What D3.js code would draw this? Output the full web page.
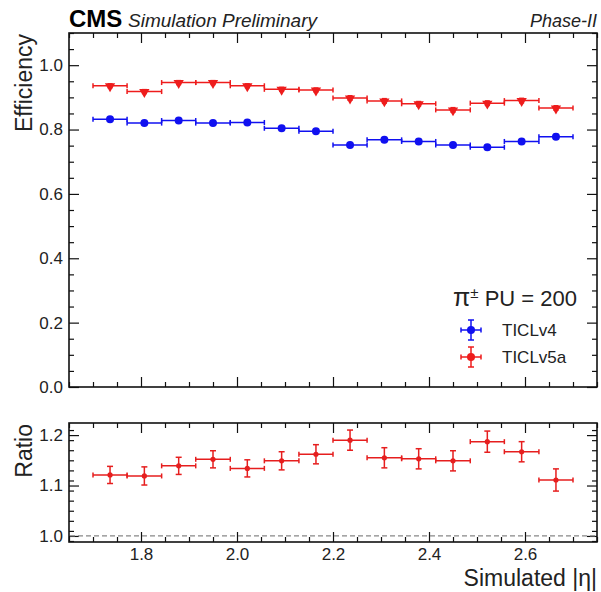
<!DOCTYPE html>
<html>
<head>
<meta charset="utf-8">
<script src="https://cdn.jsdelivr.net/npm/d3@7"></script>
<style>
    body { margin: 0; background: #fff; }
    svg { font-family: "Liberation Sans", Arial, sans-serif; }
</style>
</head>
<body>
<svg id="drawing_region"></svg>
<script>
// bins in simulated |eta|
const binEdges = [1.700, 1.771, 1.843, 1.914, 1.986, 2.057, 2.129, 2.200, 2.271, 2.343, 2.414, 2.486, 2.557, 2.629, 2.700];

// efficiency per bin
const effV4  = [0.832, 0.820, 0.828, 0.820, 0.822, 0.804, 0.795, 0.752, 0.768, 0.763, 0.752, 0.745, 0.763, 0.778];
const errV4  = [0.006, 0.006, 0.006, 0.006, 0.006, 0.006, 0.006, 0.007, 0.007, 0.007, 0.007, 0.007, 0.007, 0.007];
const effV5a = [0.936, 0.918, 0.946, 0.946, 0.936, 0.925, 0.923, 0.898, 0.889, 0.880, 0.861, 0.882, 0.890, 0.867];
const errV5a = [0.006, 0.006, 0.006, 0.006, 0.006, 0.006, 0.006, 0.007, 0.007, 0.007, 0.007, 0.007, 0.007, 0.007];

// TICLv5a / TICLv4
const ratio    = [1.121, 1.119, 1.139, 1.152, 1.134, 1.149, 1.162, 1.190, 1.155, 1.153, 1.149, 1.187, 1.167, 1.111];
const ratioErr = [0.017, 0.018, 0.017, 0.017, 0.017, 0.018, 0.019, 0.020, 0.020, 0.020, 0.020, 0.021, 0.020, 0.022];

const xMajor = [1.8, 2.0, 2.2, 2.4, 2.6];
const effMajor = [0.0, 0.2, 0.4, 0.6, 0.8, 1.0];
const ratioMajor = [1.0, 1.1, 1.2];

const config = {
    width: 601,
    height: 592,
    left: 69,
    right: 597,
    top: { y0: 33, y1: 387 },
    bottom: { y0: 423, y1: 542 }
};

const svg = d3.select('#drawing_region')
    .attr('width', config.width)
    .attr('height', config.height);

const xscale = d3.scaleLinear()
    .domain([1.65, 2.75])
    .range([config.left, config.right]);

const yEff = d3.scaleLinear()
    .domain([0, 1.1])
    .range([config.top.y1, config.top.y0]);

const yRatio = d3.scaleLinear()
    .domain([0.988, 1.224])
    .range([config.bottom.y1, config.bottom.y0]);

const bins = binEdges.slice(0, -1).map((lo, i) => ({ lo: lo, hi: binEdges[i + 1], c: (lo + binEdges[i + 1]) / 2, i: i }));

function minorValues(a, b, step) {
    const out = [];
    for (let v = a; v <= b + 1e-9; v += step) out.push(+v.toFixed(4));
    return out;
}

// ticks on all four sides, pointing inward
function drawFrame(yscale, y0, y1, yMajor, yMinor, xLabels) {
    const g = svg.append('g');
    const w = config.right - config.left;

    const addAxis = (axis, tx, ty, labels) => {
        const a = g.append('g')
            .attr('transform', `translate(${tx}, ${ty})`)
            .call(axis);
        a.select('.domain').remove();
        a.selectAll('line').attr('stroke', '#111').attr('stroke-width', 1.2);
        a.selectAll('text')
            .attr('fill', '#222')
            .style('font-size', '17px')
            .style('font-family', '"Liberation Sans", Arial, sans-serif');
        if (!labels) a.selectAll('text').remove();
    };

    const xMinorVals = minorValues(1.65, 2.75, 0.05).filter(v => !xMajor.some(m => Math.abs(m - v) < 1e-6));
    const yMinorVals = yMinor.filter(v => !yMajor.some(m => Math.abs(m - v) < 1e-6));

    addAxis(d3.axisBottom(xscale).tickValues(xMajor).tickSize(-10).tickPadding(6).tickFormat(d3.format('.1f')), 0, y1, xLabels);
    addAxis(d3.axisBottom(xscale).tickValues(xMinorVals).tickSize(-5), 0, y1, false);
    addAxis(d3.axisTop(xscale).tickValues(xMajor).tickSize(-10), 0, y0, false);
    addAxis(d3.axisTop(xscale).tickValues(xMinorVals).tickSize(-5), 0, y0, false);

    addAxis(d3.axisLeft(yscale).tickValues(yMajor).tickSize(-10).tickPadding(6).tickFormat(d3.format('.1f')), config.left, 0, true);
    addAxis(d3.axisLeft(yscale).tickValues(yMinorVals).tickSize(-5), config.left, 0, false);
    addAxis(d3.axisRight(yscale).tickValues(yMajor).tickSize(-10), config.right, 0, false);
    addAxis(d3.axisRight(yscale).tickValues(yMinorVals).tickSize(-5), config.right, 0, false);

    g.append('rect')
        .attr('x', config.left)
        .attr('y', y0)
        .attr('width', w)
        .attr('height', y1 - y0)
        .attr('fill', 'none')
        .attr('stroke', '#111')
        .attr('stroke-width', 1.6);
}

function drawErrorBars(yscale, values, errs, color, capX, capY) {
    const g = svg.append('g').attr('stroke', color).attr('stroke-width', 1.5);
    const data = bins.map(b => ({ b: b, v: values[b.i], e: errs[b.i] }));

    // horizontal bin width with end caps
    g.selectAll('.hbar').data(data).enter().append('line')
        .attr('x1', d => xscale(d.b.lo)).attr('x2', d => xscale(d.b.hi))
        .attr('y1', d => yscale(d.v)).attr('y2', d => yscale(d.v));
    g.selectAll('.hcapl').data(data).enter().append('line')
        .attr('x1', d => xscale(d.b.lo)).attr('x2', d => xscale(d.b.lo))
        .attr('y1', d => yscale(d.v) - capX).attr('y2', d => yscale(d.v) + capX);
    g.selectAll('.hcapr').data(data).enter().append('line')
        .attr('x1', d => xscale(d.b.hi)).attr('x2', d => xscale(d.b.hi))
        .attr('y1', d => yscale(d.v) - capX).attr('y2', d => yscale(d.v) + capX);

    // vertical stat errors with caps
    g.selectAll('.vbar').data(data).enter().append('line')
        .attr('x1', d => xscale(d.b.c)).attr('x2', d => xscale(d.b.c))
        .attr('y1', d => yscale(d.v - d.e)).attr('y2', d => yscale(d.v + d.e));
    g.selectAll('.vcapt').data(data).enter().append('line')
        .attr('x1', d => xscale(d.b.c) - capY).attr('x2', d => xscale(d.b.c) + capY)
        .attr('y1', d => yscale(d.v + d.e)).attr('y2', d => yscale(d.v + d.e));
    g.selectAll('.vcapb').data(data).enter().append('line')
        .attr('x1', d => xscale(d.b.c) - capY).attr('x2', d => xscale(d.b.c) + capY)
        .attr('y1', d => yscale(d.v - d.e)).attr('y2', d => yscale(d.v - d.e));
    return data;
}

// ---------- upper panel ----------
drawFrame(yEff, config.top.y0, config.top.y1, effMajor, minorValues(0, 1.1, 0.05), false);

const dV4 = drawErrorBars(yEff, effV4, errV4, '#1010f0', 2.5, 2.5);
svg.append('g').selectAll('circle').data(dV4).enter().append('circle')
    .attr('cx', d => xscale(d.b.c))
    .attr('cy', d => yEff(d.v))
    .attr('r', 4)
    .attr('fill', '#1010f0');

const dV5a = drawErrorBars(yEff, effV5a, errV5a, '#ee1c1c', 2.5, 2.5);
svg.append('g').selectAll('path').data(dV5a).enter().append('path')
    .attr('d', d3.symbol(d3.symbolTriangle, 46))
    .attr('transform', d => `translate(${xscale(d.b.c)}, ${yEff(d.v) + 0.5}) rotate(180)`)
    .attr('fill', '#ee1c1c');

// ---------- lower panel ----------
drawFrame(yRatio, config.bottom.y0, config.bottom.y1, ratioMajor, minorValues(0.99, 1.22, 0.02).concat([1.0, 1.1, 1.2]), true);

svg.append('line')
    .attr('x1', config.left + 1).attr('x2', config.right - 1)
    .attr('y1', yRatio(1.0)).attr('y2', yRatio(1.0))
    .attr('stroke', '#888')
    .attr('stroke-width', 1.3)
    .attr('stroke-dasharray', '5,3');

const dR = drawErrorBars(yRatio, ratio, ratioErr, '#e61e1e', 2.5, 3);
svg.append('g').selectAll('circle').data(dR).enter().append('circle')
    .attr('cx', d => xscale(d.b.c))
    .attr('cy', d => yRatio(d.v))
    .attr('r', 2.6)
    .attr('fill', '#e61e1e');

// ---------- labels ----------
svg.append('text')
    .attr('x', config.left)
    .attr('y', 27)
    .style('font-size', '24px')
    .style('font-weight', 'bold')
    .text('CMS');

svg.append('text')
    .attr('x', 128)
    .attr('y', 27)
    .style('font-size', '19px')
    .style('font-style', 'italic')
    .attr('fill', '#222')
    .text('Simulation Preliminary');

svg.append('text')
    .attr('x', config.right)
    .attr('y', 27)
    .attr('text-anchor', 'end')
    .style('font-size', '18px')
    .style('font-style', 'italic')
    .attr('fill', '#222')
    .text('Phase-II');

svg.append('text')
    .attr('transform', `translate(32, ${config.top.y0 + 1}) rotate(-90)`)
    .attr('text-anchor', 'end')
    .style('font-size', '23px')
    .attr('fill', '#222')
    .text('Efficiency');

svg.append('text')
    .attr('transform', `translate(32, ${config.bottom.y0 + 1}) rotate(-90)`)
    .attr('text-anchor', 'end')
    .style('font-size', '23px')
    .attr('fill', '#222')
    .text('Ratio');

svg.append('text')
    .attr('x', config.right)
    .attr('y', 586)
    .attr('text-anchor', 'end')
    .style('font-size', '23px')
    .attr('fill', '#222')
    .text('Simulated |η|');

// ---------- legend ----------
const legend = svg.append('g');
legend.append('text')
    .attr('x', 577)
    .attr('y', 306)
    .attr('text-anchor', 'end')
    .style('font-size', '22px')
    .attr('fill', '#222')
    .html('<tspan font-size="25">π</tspan><tspan dy="-8" font-size="15">±</tspan><tspan dy="8"> PU = 200</tspan>');

const legendItems = [
    { name: 'TICLv4', color: '#1010f0', y: 330 },
    { name: 'TICLv5a', color: '#ee1c1c', y: 357 }
];
legendItems.forEach(it => {
    const lx = 471;
    const lg = legend.append('g').attr('stroke', it.color).attr('stroke-width', 1.5);
    lg.append('line').attr('x1', lx - 10).attr('x2', lx + 10).attr('y1', it.y).attr('y2', it.y);
    lg.append('line').attr('x1', lx).attr('x2', lx).attr('y1', it.y - 10).attr('y2', it.y + 10);
    lg.append('line').attr('x1', lx - 10).attr('x2', lx - 10).attr('y1', it.y - 2.5).attr('y2', it.y + 2.5);
    lg.append('line').attr('x1', lx + 10).attr('x2', lx + 10).attr('y1', it.y - 2.5).attr('y2', it.y + 2.5);
    lg.append('line').attr('x1', lx - 3).attr('x2', lx + 3).attr('y1', it.y - 10).attr('y2', it.y - 10);
    lg.append('line').attr('x1', lx - 3).attr('x2', lx + 3).attr('y1', it.y + 10).attr('y2', it.y + 10);
    legend.append('circle').attr('cx', lx).attr('cy', it.y).attr('r', 4).attr('fill', it.color);
    legend.append('text')
        .attr('x', 502)
        .attr('y', it.y + 6)
        .style('font-size', '17px')
        .attr('fill', '#222')
        .text(it.name);
});
</script>
</body>
</html>
